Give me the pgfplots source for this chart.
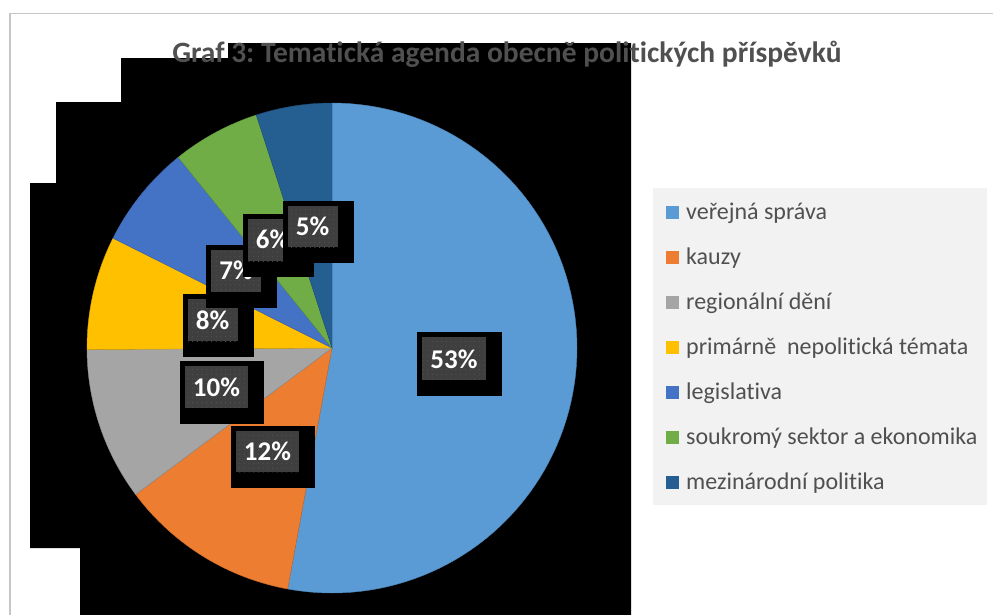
\documentclass[border=0pt]{standalone}
\usepackage{pgfplots}
\pgfplotsset{compat=1.18}
\usepackage{pgfplotstable}
\usepackage{fontspec}
\setmainfont{Carlito}[Ligatures=NoCommon]
\usetikzlibrary{patterns.meta}
\frenchspacing

\definecolor{cA}{HTML}{5B9BD5}
\definecolor{cB}{HTML}{ED7D31}
\definecolor{cC}{HTML}{A5A5A5}
\definecolor{cD}{HTML}{FFC000}
\definecolor{cE}{HTML}{4472C4}
\definecolor{cF}{HTML}{70AD47}
\definecolor{cG}{HTML}{255E91}
\definecolor{txt}{HTML}{505050}
\definecolor{legbg}{HTML}{F2F2F2}
\definecolor{framec}{HTML}{C6C6C6}
\definecolor{lblbg}{HTML}{3F3F3F}
\definecolor{lbldot}{HTML}{545454}

% shares in percent (order: clockwise from the top)
\pgfplotstableread{
share
52.9
11.9
10.1
7.5
6.8
5.8
5.0
}\shares

\newcommand\cum[3]{\pgfplotstablegetelem{#1}{share}\of\shares\pgfmathsetmacro#3{#2+3.6*\pgfplotsretval}}
\def\aZ{0}
\cum{0}{\aZ}{\aA}
\cum{1}{\aA}{\aB}
\cum{2}{\aB}{\aC}
\cum{3}{\aC}{\aD}
\cum{4}{\aD}{\aE}
\cum{5}{\aE}{\aF}
\cum{6}{\aF}{\aG}

\newcommand\slice[3]{\addplot[fill=#1, draw=#1!85!black, line width=0.4pt, domain=#2:#3, samples=90, variable=\t] ({332+245*sin(\t)},{348-245*cos(\t)}) -- (332,348) -- cycle;}

\newcommand\titlefont{\fontsize{29.5}{34}\selectfont\bfseries}
\newcommand\lblfont{\fontsize{27}{32}\selectfont\bfseries}
\newcommand\legfont{\fontsize{24}{28}\selectfont}

\newcommand\lbl[7]{%
  \fill[black] (#1-5.5,#2-5) rectangle (#3+15.5,#4+16);
  \fill[lblbg] (#1,#2) rectangle (#3,#4);
  \fill[pattern={Dots[distance=4.7pt,radius=0.6pt]},pattern color=lbldot] (#1,#2) rectangle (#3,#4);
  \node[anchor=base,text=white,font=\lblfont,inner sep=0pt] at (#5,#6) {#7};}

\newcommand\legentry[3]{%
  \fill[#1] (666,#2-6.5) rectangle (679,#2+6.5);
  \node[anchor=base west,text=txt,font=\legfont,inner sep=0pt] at (686,#2+7.5) {#3};}

\begin{document}
\begin{tikzpicture}
\useasboundingbox (0pt,0pt) rectangle (993pt,-614pt);
\begin{scope}[x=1pt,y=-1pt]
  \fill[white] (0,0) rectangle (993,614);
  \draw[framec, line width=1.6pt] (10,13.5) rectangle (1200,800);
  \fill[black] (228,43) -- (631,43) -- (631,620) -- (80,620) -- (80,548) -- (30,548)
     -- (30,183) -- (56,183) -- (56,102) -- (121,102) -- (121,58) -- (228,58) -- cycle;
  \node[anchor=base,text=txt,font=\titlefont,inner sep=0pt] at (507,62.5)
     {Graf 3: Tematická agenda obecně politických příspěvků};
\end{scope}

\begin{axis}[at={(0pt,-614pt)}, anchor=south west, scale only axis,
  width=993pt, height=614pt, xmin=0, xmax=993, ymin=0, ymax=614,
  y dir=reverse, axis lines=none, clip=false]
  \slice{cA}{\aZ}{\aA}
  \slice{cB}{\aA}{\aB}
  \slice{cC}{\aB}{\aC}
  \slice{cD}{\aC}{\aD}
  \slice{cE}{\aD}{\aE}
  \slice{cF}{\aE}{\aF}
  \slice{cG}{\aF}{\aG}
\end{axis}

\begin{scope}[x=1pt,y=-1pt]
  \lbl{422}{337}{486}{380}{454}{368.5}{53\%}
  \lbl{236}{431}{299}{472}{267.5}{460.5}{12\%}
  \lbl{185}{366}{248}{408}{216.5}{396}{10\%}
  \lbl{188}{299}{238}{341}{212.5}{329.5}{8\%}
  \lbl{211}{250}{261}{292}{236}{279.5}{7\%}
  \lbl{248}{219}{298}{261}{272.5}{248.5}{6\%}
  \lbl{288}{206}{338}{247}{312.5}{235.5}{5\%}

  \fill[legbg] (653,188) rectangle (987,505);
  \legentry{cA}{212}{veřejná správa}
  \legentry{cB}{257}{kauzy}
  \legentry{cC}{302}{regionální dění}
  \legentry{cD}{347}{primárně\ \ nepolitická témata}
  \legentry{cE}{392}{legislativa}
  \legentry{cF}{437}{soukromý sektor a ekonomika}
  \legentry{cG}{482}{mezinárodní politika}
\end{scope}
\end{tikzpicture}
\end{document}
